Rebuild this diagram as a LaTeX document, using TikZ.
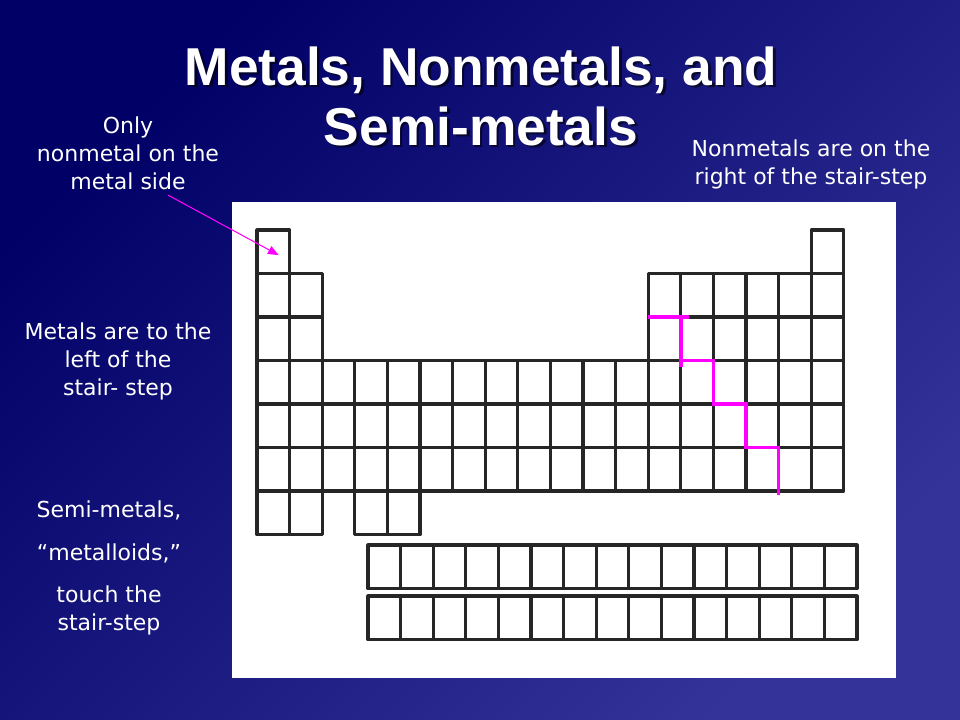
\documentclass[tikz,border=0pt]{standalone}
\usepackage{fontspec}
\usetikzlibrary{arrows.meta}
\newfontfamily\titlefont{Liberation Sans}
\newfontfamily\notefont{DejaVu Sans}
\definecolor{slidedark}{HTML}{000066}
\definecolor{slidelight}{HTML}{333399}
\definecolor{stairpink}{HTML}{FF00FF}
\tikzset{
  cell/.style={draw=black!85, line width=2.4pt, line join=round,
    minimum width=24.45pt, minimum height=32.6pt, inner sep=0pt, outer sep=0pt},
  note/.style={text=white, align=center, inner sep=1pt,
    font=\notefont\fontsize{16.5}{21}\selectfont},
  headline/.style={align=center, inner sep=0pt,
    font=\titlefont\bfseries\fontsize{40}{45}\selectfont},
  stair/.style={draw=stairpink, line width=2.6pt},
  pointer/.style={draw=stairpink, line width=0.8pt, -{Triangle[length=8pt,width=6.5pt]}},
}
\begin{document}
\begin{tikzpicture}[x=0.75pt, y=-0.75pt]
    %background
    \useasboundingbox (0,0) rectangle (960,720);
    \shade[top color=slidedark, bottom color=slidelight, shading angle=45]
        (0,0) rectangle (960,720);
    \fill[white] (232,202) rectangle (896,678);
    %title
    \node[headline, text=black, opacity=0.6] (titleshadow) at ([xshift=2pt,yshift=-2pt]481,96)
         {Metals, Nonmetals, and\\Semi-metals};
    \node[headline, text=white] (title) at (481,96)
         {Metals, Nonmetals, and\\Semi-metals};
    %notes
    \node[note] (only) at (128,153) %
         {Only\\nonmetal on the\\metal side};
    \node[note] (metals) at (118,361) %
         {Metals are to the\\left of the\\stair- step};
    \node[note] (semi) at (109,568) %
         {Semi-metals,\\[11pt]“metalloids,”\\[11pt]touch the\\stair-step};
    \node[note] (nonmetals) at (811,164) %
         {Nonmetals are on the\\right of the stair-step};
    %main table
    \foreach \r/\cols in {1/{1,18}, 2/{1,2,13,14,15,16,17,18},
                          3/{1,2,13,14,15,16,17,18}, 4/{1,...,18},
                          5/{1,...,18}, 6/{1,...,18}, 7/{1,2,4,5}}
        \foreach \c in \cols
            \node[cell] (c-\r-\c) at ({257+(\c-0.5)*32.6}, {230+(\r-0.5)*43.5}) {};
    %lanthanides and actinides
    \foreach \r in {1,2}
        \foreach \c in {1,...,15}
            \node[cell] (f-\r-\c) at ({368+(\c-0.5)*32.6}, {566.75+(\r-1)*51}) {};
    %stair-step
    \draw[stair] (c-3-13.north west) -- ([xshift=6pt]c-3-14.north west);
    \draw[stair] (c-3-14.north west) -- ([yshift=-4.5pt]c-4-14.north west);
    \draw[stair] (c-4-14.north west) -- (c-4-15.north west) -- (c-5-15.north west)
        -- (c-5-16.north west) -- (c-6-16.north west) -- (c-6-17.north west)
        -- ([yshift=-3pt]c-6-17.south west);
    %hydrogen pointer
    \draw[pointer] ([xshift=30pt,yshift=-3pt]only.south) -- ([xshift=4pt,yshift=-2.5pt]c-1-1.center);
\end{tikzpicture}
\end{document}
